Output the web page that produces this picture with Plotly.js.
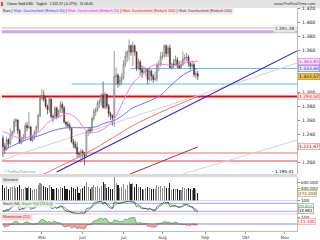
<!DOCTYPE html>
<html><head><meta charset="utf-8">
<script src="https://cdn.plot.ly/plotly-3.0.1.min.js"></script>
<style>html,body{margin:0;padding:0;background:#fff;overflow:hidden}#c{width:320px;height:240px}</style>
</head><body><div id="c"></div>
<script>
const dates = [
'2016-04-01','2016-04-04','2016-04-05','2016-04-06','2016-04-07','2016-04-08','2016-04-11','2016-04-12','2016-04-13','2016-04-14','2016-04-15',
'2016-04-18','2016-04-19','2016-04-20','2016-04-21','2016-04-22','2016-04-25','2016-04-26','2016-04-27','2016-04-28','2016-04-29',
'2016-05-02','2016-05-03','2016-05-04','2016-05-05','2016-05-06','2016-05-09','2016-05-10','2016-05-11','2016-05-12','2016-05-13',
'2016-05-16','2016-05-17','2016-05-18','2016-05-19','2016-05-20','2016-05-23','2016-05-24','2016-05-25','2016-05-26','2016-05-27',
'2016-05-30','2016-05-31','2016-06-01','2016-06-02','2016-06-03','2016-06-06','2016-06-07','2016-06-08','2016-06-09','2016-06-10',
'2016-06-13','2016-06-14','2016-06-15','2016-06-16','2016-06-17','2016-06-20','2016-06-21','2016-06-22','2016-06-23','2016-06-24',
'2016-06-27','2016-06-28','2016-06-29','2016-06-30','2016-07-01','2016-07-04','2016-07-05','2016-07-06','2016-07-07','2016-07-08',
'2016-07-11','2016-07-12','2016-07-13','2016-07-14','2016-07-15','2016-07-18','2016-07-19','2016-07-20','2016-07-21','2016-07-22',
'2016-07-25','2016-07-26','2016-07-27','2016-07-28','2016-07-29','2016-08-01','2016-08-02','2016-08-03','2016-08-04','2016-08-05',
'2016-08-08','2016-08-09','2016-08-10','2016-08-11','2016-08-12','2016-08-15','2016-08-16','2016-08-17','2016-08-18','2016-08-19',
'2016-08-22','2016-08-23','2016-08-24','2016-08-25','2016-08-26'];

const openP = [1234,1222,1218,1232,1226,1239,1243,1258,1260,1245,1227,
1234,1235,1252,1249,1250,1231,1237,1243,1250,1266,
1291,1295,1290,1280,1275,1290,1265,1264,1277,1265,
1273,1282,1277,1257,1254,1252,1249,1229,1225,1221,
1212,1211,1215,1213,1208,1243,1246,1245,1262,1272,
1275,1284,1286,1296,1278,1297,1280,1269,1266,1263,
1322,1324,1312,1317,1321,1340,1351,1357,1366,1357,
1366,1357,1334,1343,1332,1328,1329,1333,1318,1330,
1323,1318,1319,1338,1340,1350,1352,1366,1355,1363,
1335,1340,1339,1346,1337,1335,1339,1347,1349,1350,
1341,1337,1339,1325,1326.1];
const highP = [1238,1227,1236,1234,1248,1245,1262,1263,1261,1247,1236,
1240,1256,1257,1271,1252,1239,1245,1252,1269,1296,
1304,1302,1293,1282,1294,1291,1268,1280,1279,1275,
1287,1286,1280,1258,1258,1256,1250,1233,1230,1228,
1215,1219,1218,1214,1245,1249,1250,1265,1276,1278,
1288,1290,1298,1315,1300,1297,1283,1272,1268,1359,
1335,1327,1323,1327,1345,1358,1360,1375,1368,1372,
1368,1358,1348,1346,1338,1337,1335,1334,1334,1332,
1326,1329,1342,1345,1357,1358,1368,1368,1366,1368,
1342,1347,1352,1350,1344,1345,1358,1354,1356,1353,
1343,1345,1342,1330,1330];
const lowP = [1207,1212,1216,1220,1224,1233,1240,1250,1240,1226,1225,
1230,1232,1244,1247,1230,1228,1232,1236,1243,1264,
1288,1286,1277,1268,1270,1262,1257,1262,1261,1263,
1270,1270,1255,1250,1248,1245,1227,1220,1218,1206,
1206,1199,1205,1195.41,1206,1237,1240,1243,1259,1266,
1271,1277,1280,1276,1275,1276,1264,1260,1252,1250,
1310,1306,1308,1310,1318,1336,1343,1345,1352,1337,
1352,1330,1331,1324,1320,1325,1322,1311,1315,1316,
1313,1315,1315,1330,1336,1346,1349,1350,1350,1334,
1331,1334,1337,1334,1333,1333,1337,1342,1344,1336,
1332,1334,1321,1319,1317];
const closeP = [1222,1218,1232,1226,1239,1243,1258,1260,1245,1227,1234,
1235,1252,1249,1250,1231,1237,1243,1250,1266,1291,
1295,1290,1280,1275,1290,1265,1264,1277,1265,1273,
1282,1277,1257,1254,1252,1249,1229,1225,1221,1212,
1211,1215,1213,1208,1243,1246,1245,1262,1272,1275,
1284,1286,1296,1278,1297,1280,1269,1266,1263,1322,
1324,1312,1317,1321,1340,1351,1357,1366,1357,1366,
1357,1334,1343,1332,1328,1329,1333,1318,1330,1323,
1318,1319,1338,1340,1350,1352,1366,1355,1363,1335,
1340,1339,1346,1337,1335,1339,1347,1349,1350,1341,
1337,1339,1325,1326.1,1322.57];

// volume in thousands
const volumeK = [520,430,480,410,470,450,500,430,460,520,400,
380,470,420,510,430,360,380,400,520,610,
560,480,450,430,520,470,380,410,430,400,
450,420,500,390,380,360,470,430,380,460,
250,410,420,480,640,450,400,460,520,470,
480,420,500,620,550,430,460,400,390,900,
600,520,430,450,560,380,520,630,560,590,
470,560,470,450,380,370,420,460,430,390,
380,410,520,450,480,430,510,440,420,610,
370,380,410,400,370,360,450,430,410,420,
380,350,430,400,273.208];

const stochK = [25,18,35,30,48,55,80,85,62,30,38,
40,62,58,60,35,42,50,58,78,95,
96,88,72,62,78,45,40,55,42,50,
62,56,32,25,20,18,8,6,5,4,
4,8,7,5,38,45,44,68,82,88,
92,93,96,72,90,70,52,45,40,88,
88,78,82,84,92,95,96,97,90,93,
85,55,62,48,40,40,45,30,42,35,
25,28,55,62,75,80,92,82,86,55,
58,57,65,52,48,55,68,72,72,60,
52,55,30,25,13.961];
const stochD = [30,25,26,28,38,46,61,73,76,59,43,
36,47,53,60,51,46,42,50,62,77,
90,93,85,74,71,62,54,47,46,49,
51,56,50,38,26,21,15,11,6,5,
4,5,6,7,17,29,42,52,65,79,
87,91,94,87,86,77,71,56,46,58,
72,85,83,81,86,90,94,96,94,93,
89,78,67,55,50,43,42,38,39,36,
34,29,36,48,64,72,82,85,87,74,
66,57,60,58,55,52,57,65,71,68,
61,56,46,37,22.847];

const momentum = [-10,-44,-32,-29,-5,-5,34,40,27,-10,-1,
0,30,31,18,5,-2,0,-8,6,46,
68,56,45,23,41,15,33,40,22,23,
16,-14,-38,-36,-28,-26,-61,-40,-43,-65,
-54,-58,-69,-69,-14,-8,-7,13,43,50,
63,74,85,63,84,72,26,20,18,60,
52,37,33,35,44,73,60,86,88,100,
94,12,19,20,11,8,-7,-33,-27,-43,
-39,-47,-19,6,7,20,38,26,30,17,
10,16,28,18,-3,-1,-3,-3,-16,-14,
-26,4,-15,-13,-11.34];

const maDates = ['2016-04-01','2016-04-08','2016-04-15','2016-04-22','2016-04-29','2016-05-06','2016-05-13','2016-05-20','2016-05-27','2016-06-03','2016-06-10','2016-06-17','2016-06-24','2016-07-01','2016-07-08','2016-07-15','2016-07-22','2016-07-29','2016-08-05','2016-08-12','2016-08-19','2016-08-26'];
const ma20 = [1244,1238,1234,1237,1244.3,1257.9,1263.9,1269.2,1261.6,1244.6,1242.4,1248.4,1261.6,1287.8,1312.6,1325.3,1336.9,1339.5,1338.2,1338.3,1342.9,1343.85];
const ma50 = [1216,1223,1229,1234,1238,1243,1247,1249,1249,1249,1250.2,1255.8,1259.3,1267.3,1277.5,1282.8,1288.5,1295.4,1308.1,1320.2,1328.7,1333.6];
const ma100Dates = ['2016-04-01','2016-04-15','2016-04-29','2016-05-13','2016-05-27','2016-06-10','2016-06-24','2016-07-08','2016-07-22','2016-08-05','2016-08-19','2016-08-26'];
const ma100 = [1158,1168,1180,1193,1206,1220,1236,1252,1265,1277,1288,1293.5];
const ma200Dates = ['2016-06-03','2016-06-17','2016-07-01','2016-07-15','2016-08-01','2016-08-15','2016-08-26'];
const ma200 = [1156,1168,1179,1189.6,1201.3,1212,1221.47];

const priceTickVals = [1200,1240,1260,1280,1300,1360,1380,1400,1420];
const priceTickText = ['1.200','1.240','1.260','1.280','1.300','1.360','1.380','1.400','1.420'];
const volTickVals = [400,600];
const volTickText = ['400.000','600.000'];
const monthTickVals = ['2016-05-02','2016-06-01','2016-07-01','2016-08-01','2016-09-01','2016-10-03','2016-11-01'];
const monthTickText = ['Mai','Jun','Jul','Aug','Sep','Okt','Nov'];

// pixel helpers for layout placement (plot area x:2..297, y:8..231)
const PX = x => (x - 2) / 295;
const PY = y => (231 - y) / 223;
const XEND = '2016-11-09 12:00', XSTART = '2016-03-31 12:00';

const volColors = closeP.map((c, i) => c >= openP[i] ? '#8c8c8c' : '#1e1e1e');
const momPos = momentum.map(v => Math.max(v, 0));
const momNeg = momentum.map(v => Math.min(v, 0));

const traces = [
  {type:'scatter', mode:'lines', x:ma200Dates, y:ma200, line:{color:'#993333', width:1, shape:'spline'}, yaxis:'y', hoverinfo:'skip'},
  {type:'scatter', mode:'lines', x:ma100Dates, y:ma100, line:{color:'#ff6b6b', width:1, shape:'spline'}, yaxis:'y', hoverinfo:'skip'},
  {type:'scatter', mode:'lines', x:maDates, y:ma50, line:{color:'#6f6fff', width:1, shape:'spline'}, yaxis:'y', hoverinfo:'skip'},
  {type:'scatter', mode:'lines', x:maDates, y:ma20, line:{color:'#f07af0', width:1, shape:'spline'}, yaxis:'y', hoverinfo:'skip'},
  {type:'candlestick', x:dates, open:openP, high:highP, low:lowP, close:closeP, yaxis:'y',
   increasing:{line:{color:'#707070', width:0.7}, fillcolor:'#ffffff'},
   decreasing:{line:{color:'#3a3a3a', width:0.7}, fillcolor:'#e00000'},
   whiskerwidth:0, hoverinfo:'skip'},
  {type:'bar', x:dates, y:volumeK, yaxis:'y2', marker:{color:volColors, line:{width:0}}, width:0.6*864e5, hoverinfo:'skip'},
  {type:'scatter', mode:'lines', x:dates, y:stochD, yaxis:'y3', line:{color:'#2c9c2c', width:0.7}, hoverinfo:'skip'},
  {type:'scatter', mode:'lines', x:dates, y:stochK, yaxis:'y3', line:{color:'#202020', width:0.6}, hoverinfo:'skip'},
  {type:'scatter', mode:'lines', x:dates, y:momPos, yaxis:'y4', fill:'tozeroy', fillcolor:'rgba(90,185,90,0.55)', line:{color:'#3a8a3a', width:0.6}, hoverinfo:'skip'},
  {type:'scatter', mode:'lines', x:dates, y:momNeg, yaxis:'y4', fill:'tozeroy', fillcolor:'rgba(230,100,100,0.55)', line:{color:'#c03030', width:0.6}, hoverinfo:'skip'}
];

const yCommon = {side:'right', anchor:'x', showgrid:false, zeroline:false, showline:true, linecolor:'#bdbdbd', linewidth:1,
  ticks:'outside', ticklen:2, tickcolor:'#888', tickfont:{size:4.4, color:'#222', family:'DejaVu Sans'}, fixedrange:true};

function hline(y, color, width, yref) {
  return {type:'line', xref:'paper', x0:0, x1:1, yref:yref||'y', y0:y, y1:y, line:{color:color, width:width}, layer:'below'};
}
const shapes = [
  {type:'rect', xref:'paper', yref:'paper', x0:PX(0), x1:PX(320), y0:PY(8), y1:PY(0), fillcolor:'#e3e3e3', line:{width:0}, layer:'below'},
  {type:'rect', xref:'paper', yref:'paper', x0:PX(1), x1:PX(3), y0:PY(6), y1:PY(2), fillcolor:'#d04a3a', line:{width:0}},
  {type:'rect', xref:'paper', yref:'paper', x0:PX(0), x1:1, y0:PY(177), y1:PY(174), fillcolor:'#dadada', line:{width:0}},
  {type:'line', xref:'paper', yref:'paper', x0:PX(0), x1:1, y0:PY(200.7), y1:PY(200.7), line:{color:'#c8c8c8', width:0.8}},
  {type:'line', xref:'paper', yref:'paper', x0:PX(0), x1:1, y0:PY(214), y1:PY(214), line:{color:'#c8c8c8', width:0.8}},
  hline(1391.38, '#ff9a9a', 1),
  hline(1386, '#c9a9e9', 3),
  hline(1293.5, '#ff0000', 2),
  hline(1212.9, '#ffb4b4', 2),
  hline(1201.4, '#ff7a7a', 1.3),
  {type:'line', xref:'x', yref:'y', x0:'2016-07-07', x1:XEND, y0:1333.6, y1:1333.6, line:{color:'#5cbcff', width:1}, layer:'below'},
  {type:'line', xref:'x', yref:'y', x0:'2016-05-24', x1:XEND, y0:1311.4, y1:1311.4, line:{color:'#5cbcff', width:1}, layer:'below'},
  {type:'line', xref:'x', yref:'y', x0:XSTART, x1:XEND, y0:1202.9, y1:1341.4, line:{color:'#d2d2d2', width:1}, layer:'below'},
  {type:'line', xref:'x', yref:'y', x0:'2016-08-16', x1:XEND, y0:1182.9, y1:1231.4, line:{color:'#d2d2d2', width:1}, layer:'below'},
  {type:'line', xref:'x', yref:'y', x0:'2016-05-12', x1:XEND, y0:1185.7, y1:1358.6, line:{color:'#2424cc', width:1.1}, layer:'below'},
  hline(80, '#8c8cff', 0.8, 'y3'),
  hline(20, '#8c8cff', 0.8, 'y3'),
  hline(0, '#6a6aff', 0.8, 'y4')
];

function box(y, text, color, bg, border, yref, size) {
  return {xref:'paper', x:1, xanchor:'left', xshift:1, yref:yref||'y', y:y, yanchor:'middle', text:text, showarrow:false,
    font:{size:size||4.5, color:color, family:'DejaVu Sans'}, bgcolor:bg, bordercolor:border, borderwidth:0.6, borderpad:0.3};
}
// price axis labels drawn as annotations next to the axis ticks
const priceLabels = priceTickVals.map((v, i) => ({xref:'paper', x:1, xanchor:'left', xshift:2.5, yref:'y', y:v, yanchor:'middle',
  text:priceTickText[i], showarrow:false, font:{size:4.6, color:'#222', family:'DejaVu Sans'}}));

const annotations = priceLabels.concat([
  {xref:'paper', yref:'paper', x:PX(5), y:PY(4), xanchor:'left', yanchor:'middle', showarrow:false,
   text:'Ounce Gold USD   Täglich   1.322,57 (-0.27%)   21:00:45', font:{size:3.4, color:'#000', family:'Liberation Sans'}},
  {xref:'paper', yref:'paper', x:PX(318), y:PY(4), xanchor:'right', yanchor:'middle', showarrow:false,
   text:'www.ProRealTime.com', font:{size:4, color:'#333', family:'Liberation Sans'}},
  {xref:'paper', yref:'paper', x:PX(0.5), y:PY(11), xanchor:'left', yanchor:'middle', showarrow:false, bgcolor:'#ececec',
   text:'Kurs | <span style="color:#3030ff">Glatt. Durchschnitt (Einfach 50)</span> | <span style="color:#ee00ee">Glatt. Durchschnitt (Einfach 20)</span> | <span style="color:#ff0000">Glatt. Durchschnitt (Einfach 100)</span> | <span style="color:#7a1010">Glatt. Durchschnitt (Einfach 200)</span>',
   font:{size:3.7, color:'#000', family:'Liberation Sans'}},
  {xref:'paper', yref:'y', x:1, y:1391.38, xanchor:'right', xshift:-1, yanchor:'middle', showarrow:false, text:'1.391,38',
   font:{size:4.3, color:'#444', family:'DejaVu Sans'}, bgcolor:'rgba(235,235,235,0.9)'},
  {xref:'paper', yref:'paper', x:1, y:PY(171), xanchor:'right', xshift:-1, yanchor:'middle', showarrow:false, text:'- 1.195,41',
   font:{size:4.3, color:'#000', family:'DejaVu Sans'}},
  {xref:'paper', yref:'paper', x:PX(2), y:PY(172), xanchor:'left', yanchor:'middle', showarrow:false, text:'© ProRealTime.com',
   font:{size:3.5, color:'#8a8a8a', family:'Liberation Sans'}},
  {xref:'paper', yref:'paper', x:PX(1), y:PY(179.5), xanchor:'left', yanchor:'middle', showarrow:false, text:'Volumen',
   font:{size:3.8, color:'#333', family:'Liberation Sans'}, bgcolor:'#e6e6e6'},
  {xref:'paper', yref:'paper', x:PX(1), y:PY(204), xanchor:'left', yanchor:'middle', showarrow:false,
   text:'Stoch %K, <span style="color:#2c9c2c">Stoch %D (14,3,3)</span>', font:{size:3.8, color:'#333', family:'Liberation Sans'}, bgcolor:'rgba(240,240,240,0.85)'},
  {xref:'paper', yref:'paper', x:PX(1), y:PY(217), xanchor:'left', yanchor:'middle', showarrow:false, text:'Momentum (12)',
   font:{size:3.8, color:'#cc2222', family:'Liberation Sans'}, bgcolor:'#f6dada'},
  box(1343.85, '1.343,85', '#e000e0', '#ffeaff', '#e070e0'),
  box(1333.60, '1.333,60', '#2f2fe0', '#eaeaff', '#7070ff'),
  box(1322.57, '1.322,57', '#000', '#f2c54a', '#a8862a'),
  box(1293.50, '1.293,50', '#ff0000', '#ffeaea', '#ff8a8a'),
  box(1221.47, '1.221,47', '#990000', '#fff2f2', '#d09090'),
  box(PY(193.6), '273.208', '#666600', '#fbfbe8', '#a8a870', 'paper', 4.1),
  box(PY(206.6), '22.847', '#2c9c2c', '#effaef', '#7cc07c', 'paper', 3.9),
  box(PY(210.9), '13.961', '#000', '#f4f4f4', '#909090', 'paper', 3.9),
  box(PY(221.5), '-11.340', '#ff2020', '#fff0f0', '#ff9090', 'paper', 4.1)
]);

const layout = {
  width:320, height:240, margin:{l:2, r:23, t:8, b:9, pad:0},
  paper_bgcolor:'#ffffff', plot_bgcolor:'#ffffff', showlegend:false,
  font:{family:'DejaVu Sans', size:5, color:'#222'},
  xaxis:{type:'date', range:[XSTART, XEND], rangebreaks:[{bounds:['sat','mon']}], anchor:'y4', rangeslider:{visible:false},
    tickvals:monthTickVals, ticktext:monthTickText, tickfont:{size:4.3, color:'#333', family:'DejaVu Sans'},
    ticks:'outside', ticklen:2, tickcolor:'#999', showgrid:false, zeroline:false, showline:true, linecolor:'#bdbdbd', linewidth:1, fixedrange:true},
  yaxis:Object.assign({}, yCommon, {domain:[PY(174), 1], range:[1182.86, 1420], tickvals:priceTickVals, ticktext:priceTickText, showticklabels:false}),
  yaxis2:Object.assign({}, yCommon, {domain:[PY(200.7), PY(177)], range:[0, 800], tickvals:volTickVals, ticktext:volTickText, tickfont:{size:4.1, color:'#222', family:'DejaVu Sans'}}),
  yaxis3:Object.assign({}, yCommon, {domain:[PY(214), PY(200.7)], range:[0, 100], tickvals:[100], ticktext:['100']}),
  yaxis4:Object.assign({}, yCommon, {domain:[0, PY(214)], range:[-100, 143], tickvals:[100], ticktext:['100']}),
  shapes:shapes, annotations:annotations, bargap:0
};

Plotly.newPlot('c', traces, layout, {staticPlot:true, displayModeBar:false});
</script></body></html>
